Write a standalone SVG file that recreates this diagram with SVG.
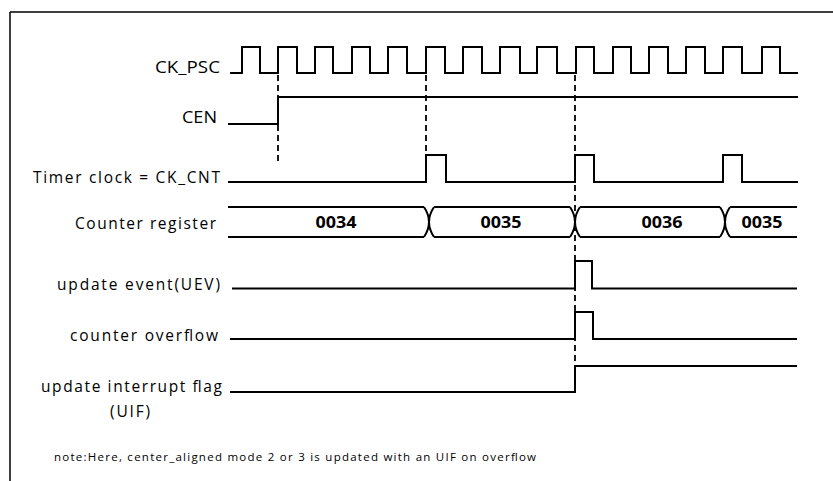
<svg xmlns="http://www.w3.org/2000/svg" width="833" height="481" viewBox="0 0 833 481">
<style>
.wave{fill:none;stroke:#000;stroke-width:2;stroke-linejoin:miter}
.dash{fill:none;stroke:#000;stroke-width:1.8;stroke-dasharray:6 4}
.lbl{font-family:"Open Sans","Liberation Sans",Arial,sans-serif;font-size:15.5px;fill:#000;text-anchor:end}
.val{font-family:"Open Sans","Liberation Sans",Arial,sans-serif;font-size:15.5px;font-weight:bold;fill:#000;text-anchor:middle}
.note{font-family:"Open Sans","Liberation Sans",Arial,sans-serif;font-size:11.5px;fill:#000}
</style>
<rect width="833" height="481" fill="#fff"/>
<g id="frame">
<path d="M10 12 H833 M10 12 V481" fill="none" stroke="#000" stroke-width="1.5"/>
</g>
<g id="labels">
<text id="lbl-ckpsc" class="lbl" x="220" y="73" textLength="65" lengthAdjust="spacingAndGlyphs">CK_PSC</text>
<text id="lbl-cen" class="lbl" x="217" y="123" textLength="35" lengthAdjust="spacingAndGlyphs">CEN</text>
<text id="lbl-ckcnt" class="lbl" x="220" y="183" textLength="187" lengthAdjust="spacing">Timer clock = CK_CNT</text>
<text id="lbl-cnt" class="lbl" x="216" y="229" textLength="141" lengthAdjust="spacing">Counter register</text>
<text id="lbl-uev" class="lbl" x="220" y="290" textLength="163" lengthAdjust="spacing">update event(UEV)</text>
<text id="lbl-ovf" class="lbl" x="218" y="341" textLength="148" lengthAdjust="spacing">counter overflow</text>
<text id="lbl-uif" class="lbl" x="222" y="392" textLength="181" lengthAdjust="spacing">update interrupt flag</text>
<text id="lbl-uif2" class="lbl" x="150" y="417" textLength="40" lengthAdjust="spacing">(UIF)</text>
<text id="note" class="note" x="54" y="461" textLength="482" lengthAdjust="spacing">note:Here, center_aligned mode 2 or 3 is updated with an UIF on overflow</text>
</g>
<g id="ck_psc">
<path class="wave" d="M230 73 H242 V47 H260 V73 H278 V47 H297 V73 H315 V47 H333 V73 H352 V47 H370 V73 H388 V47 H407 V73 H426 V47 H445 V73 H463 V47 H482 V73 H500 V47 H520 V73 H537 V47 H557 V73 H576 V47 H594 V73 H613 V47 H631 V73 H649 V47 H668 V73 H686 V47 H705 V73 H723 V47 H742 V73 H762 V47 H780 V73 H798"/>
</g>
<g id="cen">
<path class="wave" d="M228 124 H278 V97 H798"/>
</g>
<g id="ck_cnt">
<path class="wave" d="M228 182 H426 V155 H446 V182 H575 V155 H594 V182 H723 V155 H742 V182 H798"/>
</g>
<g id="counter">
<path class="wave" d="M228 207 H424 M434 207 H570 M580 207 H720 M730 207 H797 M228 237 H424 M434 237 H570 M580 237 H720 M730 237 H797"/>
<path class="wave" stroke-width="1.6" d="M424 207 Q434 222 424 237 M434 207 Q424 222 434 237 M570 207 Q580 222 570 237 M580 207 Q570 222 580 237 M720 207 Q730 222 720 237 M730 207 Q720 222 730 237"/>
<text class="val" x="336" y="228" textLength="41" lengthAdjust="spacingAndGlyphs">0034</text>
<text class="val" x="501" y="228" textLength="41" lengthAdjust="spacingAndGlyphs">0035</text>
<text class="val" x="662" y="228" textLength="41" lengthAdjust="spacingAndGlyphs">0036</text>
<text class="val" x="762" y="228" textLength="41" lengthAdjust="spacingAndGlyphs">0035</text>
</g>
<g id="uev">
<path class="wave" d="M232 288.5 H575 V261 H592 V288.5 H797"/>
</g>
<g id="overflow">
<path class="wave" d="M230 339 H575 V312 H593 V339 H797"/>
</g>
<g id="uif">
<path class="wave" d="M230 392 H575 V366 H797"/>
</g>
<g id="connectors">
<path class="dash" d="M278 75 V162"/>
<path class="dash" d="M426 75 V182"/>
<path class="dash" d="M575 75 V366"/>
</g>
</svg>
